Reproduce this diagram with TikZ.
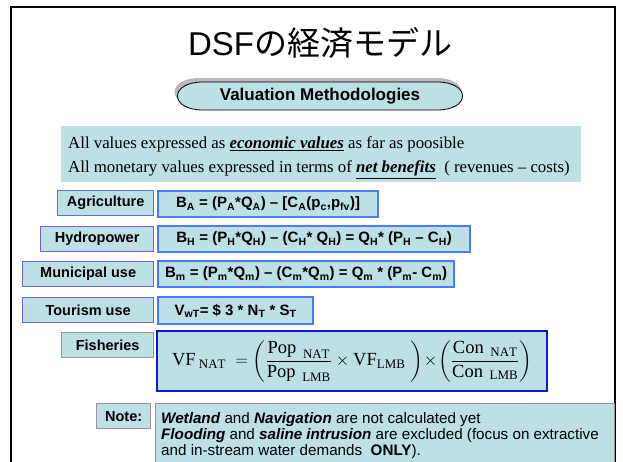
\documentclass[tikz,border=0pt]{standalone}
\usepackage{fontspec}
\usepackage{amsmath}
\setmainfont{Liberation Serif}
\setsansfont{Liberation Sans}
\newfontfamily\jpfont{Noto Sans CJK JP}
\usetikzlibrary{shadows}
\definecolor{paleblue}{RGB}{188,224,228}
\definecolor{lblblue}{RGB}{104,104,206}
\definecolor{frmblue}{RGB}{72,122,255}
\definecolor{deepblue}{RGB}{20,20,214}
\definecolor{greyedge}{RGB}{150,150,150}
\newcommand{\sbs}[1]{\textsubscript{#1}}

\begin{document}
\begin{tikzpicture}[x=1pt,y=-1pt,
  lbl/.style={draw=lblblue,line width=1.3pt,fill=paleblue,anchor=north west,inner sep=0pt,
    font=\fontsize{14.5}{16}\selectfont\sffamily\bfseries},
  frm/.style={draw=frmblue,line width=2.2pt,fill=paleblue,anchor=north west,inner sep=0pt,
    font=\fontsize{15}{16}\selectfont\sffamily\bfseries}]
\useasboundingbox (0,0) rectangle (623,461);
\clip (0,0) rectangle (623,461);
\fill[white] (0,0) rectangle (623,461);
\draw[line width=2.5pt] (11,7) rectangle (615,480);

\node (title) at (320,43) {\fontsize{33}{40}\selectfont\sffamily DSF\jpfont の経済モデル};
% capsule with its shadow
\fill[gray!55] (200,78) -- (436,78) .. controls (470,78) and (470,106) .. (436,106)
  -- (200,106) .. controls (166,106) and (166,78) .. (200,78) -- cycle;
\draw[fill=paleblue,line width=0.8pt] (203,82) -- (437,82) .. controls (471,82) and (471,110) .. (437,110)
  -- (203,110) .. controls (169,110) and (169,82) .. (203,82) -- cycle;
\node[font=\fontsize{17}{20}\selectfont\sffamily\bfseries] (vm) at (320,96) {Valuation Methodologies};

\node[fill=paleblue,anchor=north west,minimum width=520,minimum height=56,inner sep=0pt] (intro) at (61,126) {};
\node[anchor=west,inner sep=0pt,font=\fontsize{16.8}{20}\selectfont] (l1) at (68,144)
  {All values expressed as \underline{\textbf{\textit{economic values}}} as far as poosible};
\node[anchor=west,inner sep=0pt,font=\fontsize{16.8}{20}\selectfont] (l2) at (68,170)
  {All monetary values expressed in terms of \underline{\textbf{\textit{net benefits}}}\ \ ( revenues -- costs)};

\node[lbl,minimum width=96,minimum height=25] (agri) at (57,190) {Agriculture};
\node[frm,minimum width=220,minimum height=26] (fagri) at (157,190)
  {B\sbs{A} = (P\sbs{A}*Q\sbs{A}) -- [C\sbs{A}(p\sbs{c},p\sbs{fv})]};

\node[lbl,minimum width=113,minimum height=25] (hydro) at (40,226) {Hydropower};
\node[frm,minimum width=312,minimum height=26] (fhydro) at (157,225)
  {B\sbs{H} = (P\sbs{H}*Q\sbs{H}) -- (C\sbs{H}* Q\sbs{H}) = Q\sbs{H}* (P\sbs{H} -- C\sbs{H})};

\node[lbl,minimum width=131,minimum height=25] (muni) at (22,261) {Municipal use};
\node[frm,minimum width=296,minimum height=26] (fmuni) at (157,260)
  {B\sbs{m} = (P\sbs{m}*Q\sbs{m}) -- (C\sbs{m}*Q\sbs{m}) = Q\sbs{m} * (P\sbs{m}- C\sbs{m})};

\node[lbl,minimum width=131,minimum height=25] (tour) at (22,297) {Tourism use};
\node[frm,minimum width=155,minimum height=27] (ftour) at (157,296)
  {V\sbs{wT}= \$ 3 * N\sbs{T} * S\sbs{T}};

\node[lbl,draw=greyedge,minimum width=92,minimum height=25] (fish) at (61,332) {Fisheries};
\node[frm,draw=deepblue,minimum width=390,minimum height=60,font=\fontsize{18.5}{22}\selectfont] (ffish) at (156,330)
  {$\displaystyle \mathrm{VF}_{\;\mathrm{NAT}}\;=\left(\frac{\mathrm{Pop}_{\;\;\mathrm{NAT}}}{\mathrm{Pop}_{\;\;\mathrm{LMB}}}\times\mathrm{VF}_{\mathrm{LMB}}\;\right)\!\times\!\left(\frac{\mathrm{Con}_{\;\;\mathrm{NAT}}}{\mathrm{Con}_{\;\;\mathrm{LMB}}}\right)$};

\node[lbl,draw=greyedge,minimum width=54,minimum height=25] (note) at (96,403) {Note:};
\node[draw=greyedge,line width=1.3pt,fill=paleblue,anchor=north west,minimum width=459,minimum height=80] (notebox) at (155,403) {};
\node[anchor=north west,align=left,inner sep=0pt,font=\fontsize{15.2}{16.3}\selectfont\sffamily] (notetxt) at (161,412)
  {\textbf{\textit{Wetland}} and \textbf{\textit{Navigation}} are not calculated yet\\
   \textbf{\textit{Flooding}} and \textbf{\textit{saline intrusion}} are excluded (focus on extractive\\
   and in-stream water demands\ \ \textbf{ONLY}).};
\end{tikzpicture}
\end{document}
